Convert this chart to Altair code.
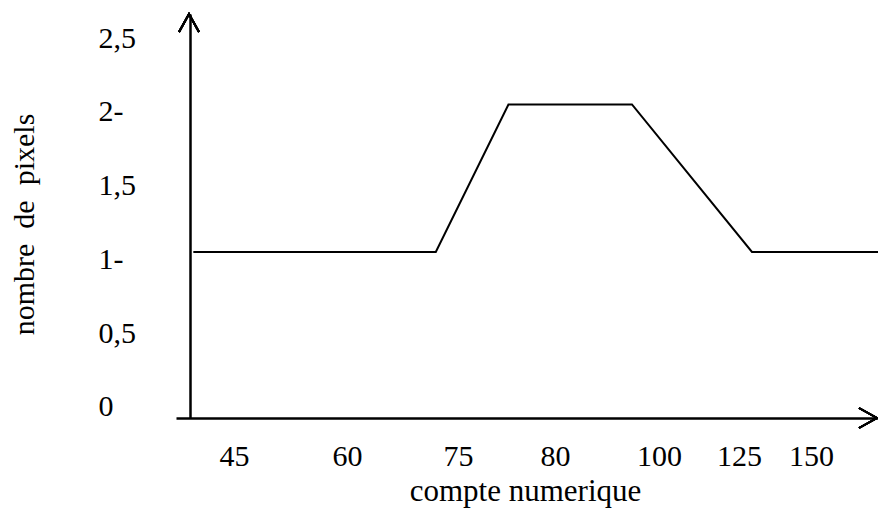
import altair as alt
import pandas as pd

# Data
compte = [39.6, 72.0, 77.6, 94.8, 129.5, 176.0]
pixels = [1.05, 1.05, 2.05, 2.05, 1.05, 1.05]

x_ticks = [45, 60, 75, 80, 100, 125, 150]
y_ticks = [0, 0.5, 1, 1.5, 2, 2.5]
y_labels = ["0", "0,5", "1-", "1,5", "2-", "2,5"]

# Uneven (hand-drawn) spacing of the x axis, in pixels of the plot area
x_scale_domain = [37.3] + x_ticks + [173.3]
x_scale_range = [0, 58, 171, 282, 379, 483, 563, 635, 702]

FONT = "Liberation Serif"
W, H = 702, 404

df = pd.DataFrame({"compte": compte, "pixels": pixels})

expr = "''"
for v, lab in reversed(list(zip(y_ticks, y_labels))):
    expr = f"datum.value == {v} ? '{lab}' : ({expr})"

line = alt.Chart(df).mark_line(color="black", strokeWidth=2, clip=True).encode(
    x=alt.X(
        "compte:Q",
        scale=alt.Scale(domain=x_scale_domain, range=x_scale_range, nice=False, zero=False),
        axis=alt.Axis(
            values=x_ticks,
            title="compte numerique",
            titleX=349,
            titleY=82,
            titleAlign="center",
            titleBaseline="alphabetic",
            titleFont=FONT,
            titleFontSize=31,
            titleFontWeight="normal",
            titleColor="black",
            labelFont=FONT,
            labelFontSize=30,
            labelColor="black",
            labelPadding=23,
            labelBaseline="top",
            labelOverlap=False,
            labelFlush=False,
            ticks=False,
            tickSize=0,
            grid=False,
            domainColor="black",
            domainWidth=2.3,
        ),
    ),
    y=alt.Y(
        "pixels:Q",
        scale=alt.Scale(domain=[-0.075, 2.663], nice=False, zero=False),
        axis=alt.Axis(
            values=y_ticks,
            labelExpr=expr,
            offset=-14,
            title="nombre\u00a0 de\u00a0 pixels",
            titleAngle=270,
            titleX=-157,
            titleY=210,
            titleAlign="center",
            titleBaseline="alphabetic",
            titleFont=FONT,
            titleFontSize=30,
            titleFontWeight="normal",
            titleColor="black",
            labelFont=FONT,
            labelFontSize=30,
            labelColor="black",
            labelAlign="left",
            labelPadding=92,
            labelOverlap=False,
            labelFlush=False,
            ticks=False,
            tickSize=0,
            grid=False,
            domainColor="black",
            domainWidth=2.5,
        ),
    ),
)

arrow_up = alt.Chart(df).mark_point(
    shape="M-1,0.9L0,-0.9L1,0.9", filled=False, stroke="black", strokeWidth=2,
    size=400, opacity=1,
).encode(x=alt.value(13), y=alt.value(9))

arrow_right = alt.Chart(df).mark_point(
    shape="M-0.9,-1L0.9,0L-0.9,1", filled=False, stroke="black", strokeWidth=2,
    size=400, opacity=1,
).encode(x=alt.value(W - 10), y=alt.value(H))

chart = alt.layer(line, arrow_up, arrow_right).properties(
    width=W,
    height=H,
    padding={"left": 168, "top": 6, "right": 0, "bottom": 90},
    autosize="none",
    background="white",
).configure_view(stroke=None)

chart.save("out.html", embed_options={"renderer": "svg", "actions": False})
